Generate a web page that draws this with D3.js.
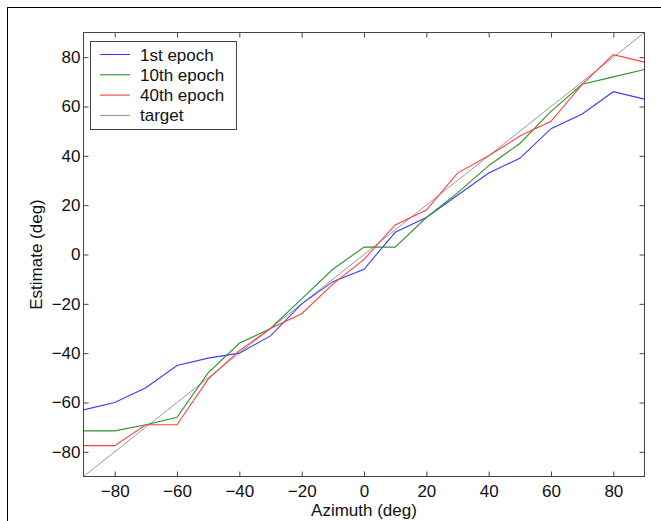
<!DOCTYPE html>
<html><head><meta charset="utf-8">
<script src="https://cdn.jsdelivr.net/npm/d3@7"></script>
<style>
html,body{margin:0;padding:0;background:#fff;}
svg{display:block;}
text{font-family:"Liberation Sans",Arial,sans-serif;fill:#111;}
</style></head>
<body>
<svg id="chart" width="661" height="521"></svg>
<script>
const azimuth = [-90,-80,-70,-60,-50,-40,-30,-20,-10,0,10,20,30,40,50,60,70,80,90];
const epoch1  = [-63,-60,-54,-45,-42,-40,-33,-20,-11,-6,9,15,24,33,39,51,57,66,63];
const epoch10 = [-71.5,-71.5,-69,-66,-48,-36,-30,-18,-6,3,3,15,25,36,45,58,69,72,75];
const epoch40 = [-77.5,-77.5,-69,-69,-50.5,-39,-30,-24,-12,-2,12,18,33,40,48,54,69,81,78];
const target  = [-90,90];
const xTicks = [-80,-60,-40,-20,0,20,40,60,80];
const yTicks = [-80,-60,-40,-20,0,20,40,60,80];
const seriesNames = ["1st epoch","10th epoch","40th epoch","target"];
const seriesColors = ["#3c3cff","#2f932f","#ff4040","#999999"];

const svg = d3.select("#chart");
svg.append("rect").attr("x",7.5).attr("y",7.5).attr("width",680).attr("height",540)
  .attr("fill","none").attr("stroke","#000").attr("stroke-width",1);

const L=83.5, R=644.5, T=32.5, B=476.5;
const x = d3.scaleLinear().domain([-90,90]).range([L,R]);
const y = d3.scaleLinear().domain([-90,90]).range([B,T]);

const axisColor = "#444";
const FS = "17px";
const g = svg.append("g");
g.append("rect").attr("x",L).attr("y",T).attr("width",R-L).attr("height",B-T)
  .attr("fill","#fff").attr("stroke",axisColor).attr("stroke-width",1);

const tk = 5;
function styleAxis(sel){
  sel.select(".domain").remove();
  sel.selectAll("line").attr("stroke",axisColor);
  sel.selectAll("text").style("font-size",FS).attr("fill","#111");
}
g.append("g").attr("transform",`translate(0,${B})`)
  .call(d3.axisBottom(x).tickValues(xTicks).tickSize(-tk).tickPadding(8).tickFormat(d3.format("d")))
  .call(styleAxis);
g.append("g").attr("transform",`translate(0,${T})`)
  .call(d3.axisTop(x).tickValues(xTicks).tickSize(-tk).tickFormat(""))
  .call(styleAxis);
g.append("g").attr("transform",`translate(${L},0)`)
  .call(d3.axisLeft(y).tickValues(yTicks).tickSize(-tk).tickPadding(3).tickFormat(d3.format("d")))
  .call(styleAxis);
g.append("g").attr("transform",`translate(${R},0)`)
  .call(d3.axisRight(y).tickValues(yTicks).tickSize(-tk).tickFormat(""))
  .call(styleAxis);

const line = d3.line().x(d=>x(d[0])).y(d=>y(d[1]));
svg.append("clipPath").attr("id","pc").append("rect")
  .attr("x",L).attr("y",T).attr("width",R-L).attr("height",B-T);
const lg = svg.append("g").attr("clip-path","url(#pc)");
lg.append("path").datum(target.map(t=>[t,t]))
  .attr("d",line).attr("fill","none").attr("stroke",seriesColors[3]).attr("stroke-width",1);
[epoch1,epoch10,epoch40].forEach((s,i)=>{
  lg.append("path").datum(azimuth.map((a,j)=>[a,s[j]]))
    .attr("d",line).attr("fill","none").attr("stroke",seriesColors[i]).attr("stroke-width",1.1);
});
svg.append("rect").attr("x",L).attr("y",T).attr("width",R-L).attr("height",B-T)
  .attr("fill","none").attr("stroke",axisColor).attr("stroke-width",1);

const lgx=90.5, lgy=41.5;
const leg = svg.append("g");
leg.append("rect").attr("x",lgx).attr("y",lgy).attr("width",146).attr("height",88)
  .attr("fill","#fff").attr("stroke",axisColor).attr("stroke-width",1);
seriesNames.forEach((n,i)=>{
  const yy = lgy + 13 + i*20.3;
  leg.append("line").attr("x1",100).attr("x2",130).attr("y1",yy).attr("y2",yy)
    .attr("stroke",seriesColors[i]).attr("stroke-width",1.1);
  leg.append("text").attr("x",140).attr("y",yy+6).style("font-size",FS).text(n);
});

svg.append("text").attr("x",(L+R)/2).attr("y",515.5).attr("text-anchor","middle")
  .style("font-size",FS).text("Azimuth (deg)");
svg.append("text").attr("transform",`translate(42,${(T+B)/2}) rotate(-90)`)
  .attr("text-anchor","middle").style("font-size",FS).text("Estimate (deg)");
</script>
</body></html>
